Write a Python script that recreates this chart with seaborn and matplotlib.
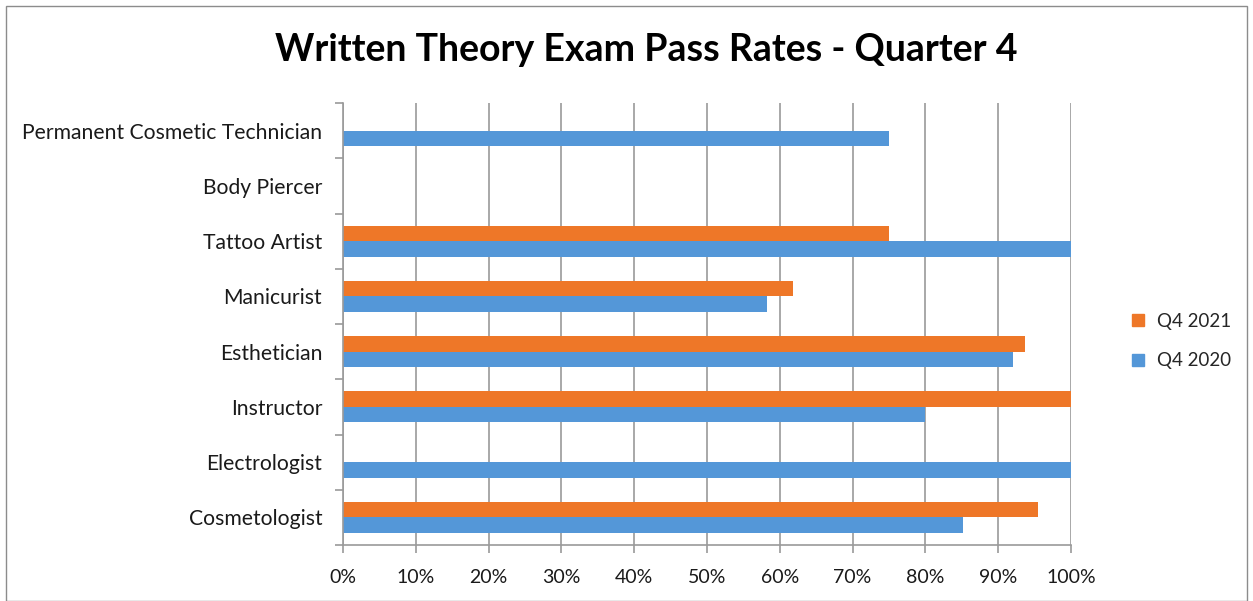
import numpy as np
import pandas as pd
import matplotlib
matplotlib.use("Agg")
import matplotlib.pyplot as plt
import seaborn as sns
from matplotlib.patches import Rectangle
from matplotlib.ticker import FuncFormatter
from matplotlib.lines import Line2D

categories = ["Permanent Cosmetic Technician", "Body Piercer", "Tattoo Artist",
              "Manicurist", "Esthetician", "Instructor", "Electrologist", "Cosmetologist"]
q4_2021 = [np.nan, np.nan, 75.0, 61.8, 93.7, 100.0, np.nan, 95.4]
q4_2020 = [75.0, np.nan, 100.0, 58.2, 92.1, 80.0, 100.0, 85.1]
series_names = ["Q4 2021", "Q4 2020"]
x_ticks = list(range(0, 101, 10))

df = pd.DataFrame({
    "category": categories * 2,
    "value": q4_2021 + q4_2020,
    "series": [series_names[0]] * len(categories) + [series_names[1]] * len(categories),
})

sns.set_theme(style="white")
plt.rcParams["font.family"] = ["Lato", "DejaVu Sans"]

fig = plt.figure(figsize=(12.53, 6.01), dpi=100)
ax = fig.add_axes([343 / 1253, 1 - 545 / 601, (1071 - 343) / 1253, (545 - 103) / 601])

palette = {"Q4 2021": "#EE7728", "Q4 2020": "#5497D8"}
sns.barplot(data=df, y="category", x="value", hue="series", order=categories,
            hue_order=series_names, palette=palette, orient="h", width=0.56,
            gap=0, ax=ax, legend=False, saturation=1, errorbar=None, linewidth=0)

ax.set_xlim(0, 100)
ax.set_ylim(len(categories) - 0.5, -0.5)
ax.set_xticks(x_ticks)
ax.xaxis.set_major_formatter(FuncFormatter(lambda v, p: f"{int(v)}%"))
ax.set_xlabel("")
ax.set_ylabel("")
ax.grid(axis="x", color="#9a9a9a", linewidth=1.2)
ax.set_axisbelow(True)
for s in ["top", "right"]:
    ax.spines[s].set_visible(False)
for s in ["left", "bottom"]:
    ax.spines[s].set_color("#9a9a9a")
    ax.spines[s].set_linewidth(1.2)

ax.set_yticks(range(len(categories)))
ax.set_yticklabels(categories)
ax.set_yticks(np.arange(-0.5, len(categories) + 0.5, 1), minor=True)
ax.tick_params(axis="y", which="major", length=0, pad=15, labelsize=15.2, labelcolor="#1a1a1a")
ax.tick_params(axis="y", which="minor", length=6, color="#9a9a9a", width=1.2, left=True)
ax.tick_params(axis="x", which="major", length=6, color="#9a9a9a", width=1.2, bottom=True,
               labelsize=14, labelcolor="#1a1a1a", pad=11)

fig.text(646 / 1253, 1 - 50 / 601, "Written Theory Exam Pass Rates - Quarter 4",
         ha="center", va="center", fontsize=27, fontweight="bold", color="black")

handles = [Line2D([], [], marker="s", linestyle="", markersize=9, color=palette[n]) for n in series_names]
fig.legend(handles, series_names, loc="center left", bbox_to_anchor=(1112 / 1253, 1 - 341 / 601),
           frameon=False, fontsize=13.5, handletextpad=0.0, labelspacing=1.2, borderaxespad=0)

fig.patches.append(Rectangle((6 / 1253, 0), 1 - 12 / 1253, 1 - 6 / 601, transform=fig.transFigure,
                             fill=False, edgecolor="#8c8c8c", linewidth=1))

fig.savefig("out.png", dpi=100)
